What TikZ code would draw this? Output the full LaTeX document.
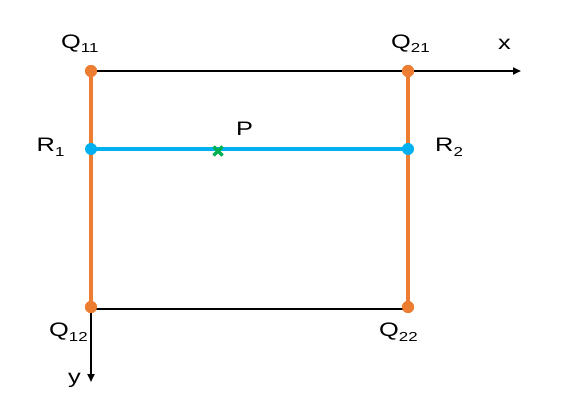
\documentclass[tikz,border=0pt]{standalone}
\usepackage{fontspec}
\setmainfont{Liberation Sans}
\newfontfamily\lblfont[FakeStretch=1.3]{Liberation Sans}
\usetikzlibrary{arrows.meta}
\definecolor{qorange}{HTML}{ED7D31}
\definecolor{rblue}{HTML}{00B0F0}
\definecolor{pgreen}{HTML}{00B050}
\newcommand{\lsub}[1]{\raisebox{-5pt}{\fontsize{13}{15}\selectfont #1}}
\begin{document}
\begin{tikzpicture}[x=1pt,y=-1pt,
  axis/.style={black,line width=2pt},
  axisarrow/.style={axis,-{Triangle[length=8pt,width=7pt]}},
  oline/.style={qorange,line width=3.2pt},
  bline/.style={rblue,line width=3.2pt},
  odot/.style={circle,fill=qorange,inner sep=0pt,minimum size=12pt},
  bdot/.style={circle,fill=rblue,inner sep=0pt,minimum size=12pt},
  lbl/.style={font=\lblfont\fontsize{19.5}{23}\selectfont,inner sep=0pt,anchor=base west}]
\useasboundingbox (0,0) rectangle (576,415);
\coordinate (xend) at (521,71);
\coordinate (yend) at (91,382);
\node[odot] (q11) at (91,71) {};
\node[odot] (q21) at (408,71) {};
\node[odot] (q12) at (91,307) {};
\node[odot] (q22) at (408,307) {};
\coordinate (r1) at (91,149);
\coordinate (r2) at (408,149);
\coordinate (p) at (218,151);
\coordinate (b1) at (91,308.5);
\coordinate (b2) at (408,308.5);
% axes
\draw[axisarrow] (q11.center) -- (xend);
\draw[axis] (b1) -- (b2);
\draw[axisarrow] (q12.center) -- (yend);
% verticals
\draw[oline] (q11.center) -- (q12.center);
\draw[oline] (q21.center) -- (q22.center);
% horizontal R line
\draw[bline] (r1) -- (r2);
\node[bdot] (r1n) at (r1) {};
\node[bdot] (r2n) at (r2) {};
\node[odot] at (q11) {};
\node[odot] at (q21) {};
\node[odot] at (q12) {};
\node[odot] at (q22) {};
% P marker
\draw[pgreen,line width=3.5pt] ([shift={(-4.5,-4.5)}]p) -- ([shift={(4.5,4.5)}]p);
\draw[pgreen,line width=3.5pt] ([shift={(-4.5,4.5)}]p) -- ([shift={(4.5,-4.5)}]p);
% labels
\node[lbl] (lq11) at (61,48) {Q\lsub{11}};
\node[lbl] (lq21) at (391,48) {Q\lsub{21}};
\node[lbl] (lx) at (498,49) {x};
\node[lbl] (lr1) at (36.5,151.5) {R\lsub{1}};
\node[lbl] (lr2) at (435,151.5) {R\lsub{2}};
\node[lbl] (lp) at (236,135) {P};
\node[lbl] (lq12) at (49,336) {Q\lsub{12}};
\node[lbl] (lq22) at (379,336) {Q\lsub{22}};
\node[lbl] (ly) at (68,383) {y};
\end{tikzpicture}
\end{document}
